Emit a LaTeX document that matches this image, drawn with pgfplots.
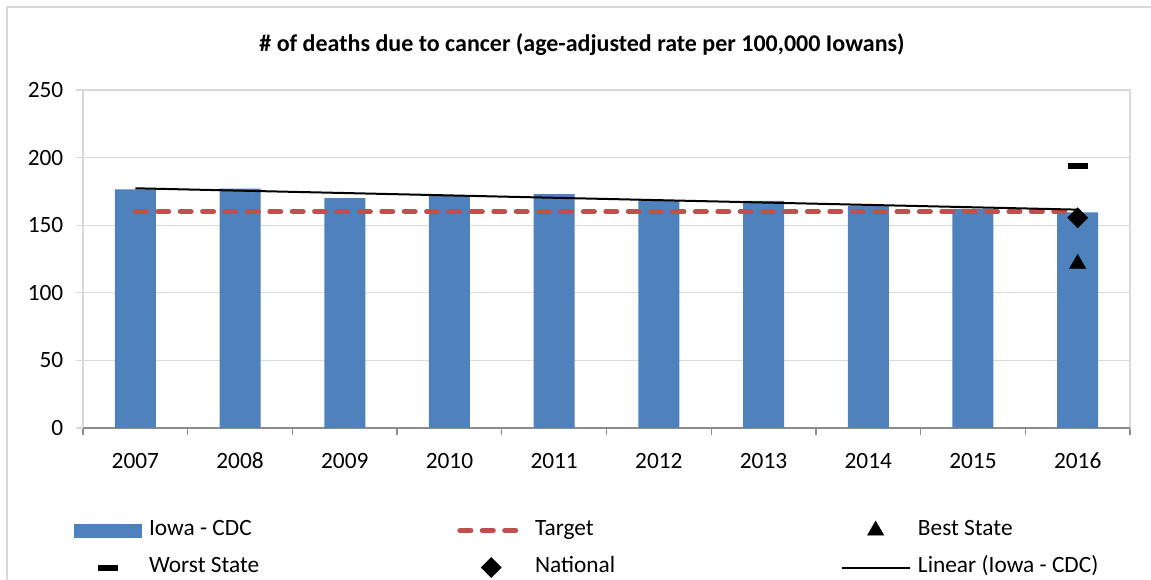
\documentclass[border=0pt]{standalone}
\usepackage{fontspec}
\setmainfont{Carlito}
\usepackage{pgfplots}
\pgfplotsset{compat=1.18}
\definecolor{Bar}{HTML}{4F81BD}
\definecolor{Goal}{HTML}{C0504D}
\definecolor{Grid}{HTML}{D9D9D9}
\definecolor{Axis}{HTML}{8C8C8C}
\pgfplotsset{
  markleg/.style={legend image code/.code={\draw[##1] plot coordinates {(25.5pt,0pt)}; \path (0pt,0pt) (51pt,0pt);}},
  dashleg/.style={legend image code/.code={\draw[##1] (2pt,0pt) -- (49pt,0pt); \path (0pt,0pt) (51pt,0pt);}},
  lineleg/.style={legend image code/.code={\draw[##1] (0pt,0pt) -- (51pt,0pt);}},
  barleg/.style={legend image code/.code={\fill[Bar] (0pt,-5.25pt) rectangle (51pt,5.25pt);}},
}
\begin{document}
\begin{tikzpicture}
\begin{axis}[name=ax,at={(0,0)},anchor=south west,scale only axis,width=785.25pt,height=253.5pt,
  clip mode=individual,
  xmin=-0.5,xmax=9.5,ymin=0,ymax=250,ytick={0,50,...,250},
  xtick={0,...,9},xticklabels={2007,2008,2009,2010,2011,2012,2013,2014,2015,2016},
  minor xtick={-0.5,0.5,...,9.5},tick pos=left,
  axis line style={Grid,line width=1pt},ymajorgrids,grid style={Grid,line width=1pt},
  tick align=outside,major x tick style={draw=none},minor x tick style={Axis,line width=1pt},
  y tick style={Grid,line width=1pt},major tick length=5.25pt,minor tick length=5.25pt,
  extra y ticks={0},extra y tick labels={},extra y tick style={grid style={Axis,line width=1pt}},
  tick label style={font=\fontsize{17.5}{20}\selectfont},
  yticklabel style={xshift=-6pt},xticklabel style={yshift=-10pt},
  /pgf/number format/assume math mode=true,
  legend style={at={(-0.0134,-0.265)},anchor=north west,draw=none,fill=none,
    legend columns=3,row sep=12.75pt,
    nodes={inner xsep=0pt,inner ysep=0pt,text width=229.2pt,align=flush left,
      text height=11pt,text depth=4pt,font=\fontsize{17.5}{20}\selectfont},
    /tikz/every odd column/.append style={column sep=5.5pt}},
]
\addplot[ybar,bar width=30.75pt,fill=Bar,draw=none,barleg]
  coordinates {(0,176.5) (1,177) (2,170) (3,171.8) (4,173) (5,168.6) (6,168) (7,164.4) (8,162) (9,159.5)};
\addlegendentry{Iowa - CDC}
\addplot[Goal,line width=3.75pt,line cap=round,dash pattern=on 8.25pt off 8.55pt,dashleg]
  coordinates {(0,160) (9,160)};
\addlegendentry{Target}
\addplot[black,only marks,mark=triangle*,mark size=7pt,markleg]
  coordinates {(9,121.5)};
\addlegendentry{Best State}
\addplot[black,only marks,mark=-,mark size=7.5pt,mark options={line width=4.5pt},markleg]
  coordinates {(9,194)};
\addlegendentry{Worst State}
\addplot[black,only marks,mark=square*,mark size=5.3pt,mark options={rotate=45},markleg]
  coordinates {(9,155.5)};
\addlegendentry{National}
\addplot[black,line width=1.5pt,lineleg]
  coordinates {(0,177.3) (9,161.5)};
\addlegendentry{Linear (Iowa - CDC)}
\end{axis}
\node[font=\bfseries\fontsize{18}{21}\selectfont] at ([xshift=374.25pt,yshift=287.25pt]ax.south west) {\# of deaths due to cancer (age-adjusted rate per 100,000 Iowans)};
\draw[Grid,line width=1.1pt] ([xshift=-57pt]ax.south west) ++(0,-114pt) -- ++(0,429.75pt) -- ++(920pt,0);
\pgfresetboundingbox
\path[use as bounding box] ([xshift=-62.25pt,yshift=-114pt]ax.south west) rectangle ++(863.25pt,435pt);
\end{tikzpicture}
\end{document}
